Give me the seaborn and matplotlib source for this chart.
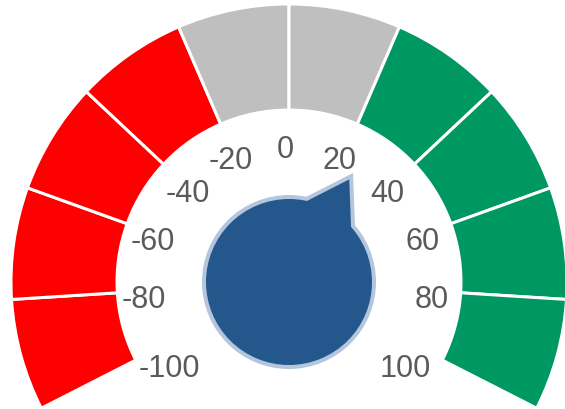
"""
Gauge chart: score from -100 to 100 with coloured bands and a needle.
"""
import numpy as np
import matplotlib
matplotlib.use("Agg")
import matplotlib.pyplot as plt
from matplotlib.patches import Wedge, Circle, Polygon
import seaborn as sns

# data
band_starts = [-100, -80, -60, -40, -20, 0, 20, 40, 60, 80]
band_ends = [-80, -60, -40, -20, 0, 20, 40, 60, 80, 100]
band_colors = ["#ff0000", "#ff0000", "#ff0000", "#ff0000",
               "#bfbfbf", "#bfbfbf",
               "#009862", "#009862", "#009862", "#009862"]
tick_values = [-100, -80, -60, -40, -20, 0, 20, 40, 60, 80, 100]
needle_value = 26

# gauge layout (pixels, y measured up from the bottom)
W, H = 565, 410
CX, CY = 289, H - 283
R_OUT, R_IN = 278, 172
HALF_SPAN = 117          # degrees either side of vertical
V_MIN, V_MAX = -100, 100
HUB_R = 83
NEEDLE_R, NEEDLE_HALF_BASE = 119, 76
PX = 72 / 100            # points per pixel

# label placement
LABEL_CX = 285
LABEL_R_CENTER, LABEL_R_SIDE, LABEL_R_Y = 136, 164, 139
LABEL_DROP, LABEL_LOW_DROP = 3, 37
FONT_PT = 22
FONT_PX = FONT_PT / PX


def value_to_phi(v):
    """Angle from vertical, clockwise, in degrees."""
    frac = (v - V_MIN) / (V_MAX - V_MIN)
    return -HALF_SPAN + frac * 2 * HALF_SPAN


def value_to_angle(v):
    """Math angle (deg, ccw from +x)."""
    return 90 - value_to_phi(v)


def label_position(v):
    phi = np.deg2rad(value_to_phi(v))
    s, c = np.sin(phi), np.cos(phi)
    if abs(np.rad2deg(phi)) < 30:
        ha, x = "center", LABEL_CX + LABEL_R_CENTER * s
    else:
        ha = "left" if s < 0 else "right"
        x = LABEL_CX + LABEL_R_SIDE * s
    drop = LABEL_DROP + (LABEL_LOW_DROP * -c if c < 0 else 0)
    y_mid = CY + LABEL_R_Y * c - drop
    y_base = y_mid - 0.716 * FONT_PX / 2
    return x, y_base, ha


sns.set_theme(style="white")
plt.rcParams["font.family"] = ["Liberation Sans", "DejaVu Sans"]

fig = plt.figure(figsize=(W / 100, H / 100), dpi=100)
ax = fig.add_axes([0, 0, 1, 1])
ax.set_xlim(0, W)
ax.set_ylim(0, H)
ax.set_axis_off()

# bands
for start, end, color in zip(band_starts, band_ends, band_colors):
    a1, a2 = value_to_angle(end), value_to_angle(start)
    ax.add_patch(Wedge((CX, CY), R_OUT, a1, a2, width=R_OUT - R_IN,
                       facecolor=color, edgecolor="white",
                       linewidth=3 * PX, zorder=1))

# tick labels
for v in tick_values:
    x, y, ha = label_position(v)
    ax.text(x, y, str(v), ha=ha, va="baseline",
            fontsize=FONT_PT, color="#5a5a5a", zorder=2)

# needle + hub
a = np.deg2rad(value_to_angle(needle_value))
tip = (CX + NEEDLE_R * np.cos(a), CY + NEEDLE_R * np.sin(a))
perp = np.array([np.cos(a - np.pi / 2), np.sin(a - np.pi / 2)])
b1 = (CX + NEEDLE_HALF_BASE * perp[0], CY + NEEDLE_HALF_BASE * perp[1])
b2 = (CX - NEEDLE_HALF_BASE * perp[0], CY - NEEDLE_HALF_BASE * perp[1])

border = "#b3c6dd"
fill = "#24578b"
for z, ec, lw in [(3, border, 8 * PX), (4, "none", 0)]:
    ax.add_patch(Circle((CX, CY), HUB_R, facecolor=fill, edgecolor=ec,
                        linewidth=lw, zorder=z))
    ax.add_patch(Polygon([b1, tip, b2], closed=True, facecolor=fill,
                         edgecolor=ec, linewidth=lw, joinstyle="miter",
                         zorder=z))

fig.savefig("out.png", dpi=100)
plt.close(fig)
